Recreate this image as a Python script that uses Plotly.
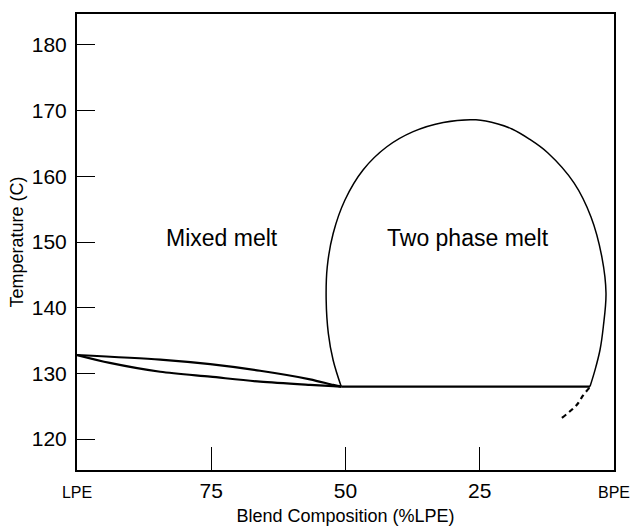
import plotly.graph_objects as go

# --- data (Blend composition in %LPE, temperature in C) ---
lens_upper_x = [100, 84.5, 75.2, 65.9, 56.6, 52.3, 50.8]
lens_upper_t = [132.8, 132.1, 131.4, 130.4, 129.1, 128.25, 128.0]
lens_lower_x = [100, 93.9, 84.5, 75.2, 65.9, 56.6, 52.3, 50.8]
lens_lower_t = [132.8, 131.6, 130.25, 129.5, 128.75, 128.25, 128.05, 128.0]

dome_x = [50.8, 52.3, 53.2, 53.6, 53.4, 52.3, 50.1, 46.7, 42.3, 37.4, 31.8, 25.7,
          21.6, 19.0, 15.83, 12.3, 7.45, 4.28, 2.23, 1.49, 1.99, 2.6, 3.54, 4.47]
dome_t = [128.0, 132.0, 136.1, 141.2, 146.2, 151.3, 156.4, 161.0, 164.5, 166.8, 168.2, 168.6,
          167.97, 167.2, 165.7, 163.55, 159.0, 153.8, 147.6, 142.2, 137.1, 133.6, 130.5, 128.0]

flat_x = [50.8, 4.47]
flat_t = [128.0, 128.0]

dash_x = [4.6, 5.72, 6.95, 9.74]
dash_t = [127.8, 126.7, 125.2, 123.2]

x_tickvals = [100, 75, 50, 25, 0]
x_ticktext = ["<span style='font-size:16px'>LPE</span>", "75", "50", "25",
              "<span style='font-size:16px'>BPE</span>"]
y_tickvals = [120, 130, 140, 150, 160, 170, 180]

labels = ["Mixed melt", "Two phase melt"]
label_x = [73, 27.1]
label_t = [150.6, 150.6]

FONT = "Liberation Sans, Arial, Helvetica, sans-serif"

fig = go.Figure()
fig.add_trace(go.Scatter(x=lens_upper_x, y=lens_upper_t, mode="lines",
                         line=dict(color="black", width=2.2, shape="spline", smoothing=0.8)))
fig.add_trace(go.Scatter(x=lens_lower_x, y=lens_lower_t, mode="lines",
                         line=dict(color="black", width=2.2, shape="spline", smoothing=0.8)))
fig.add_trace(go.Scatter(x=dome_x, y=dome_t, mode="lines",
                         line=dict(color="black", width=1.5, shape="spline", smoothing=1.0)))
fig.add_trace(go.Scatter(x=flat_x, y=flat_t, mode="lines",
                         line=dict(color="black", width=2.2)))
fig.add_trace(go.Scatter(x=dash_x, y=dash_t, mode="lines",
                         line=dict(color="black", width=2.2, dash="5px,4px",
                                   shape="spline", smoothing=1.0)))

for txt, lx, lt in zip(labels, label_x, label_t):
    fig.add_annotation(x=lx, y=lt, text=txt, showarrow=False,
                       font=dict(family=FONT, size=23, color="black"))

fig.update_layout(
    width=636, height=526,
    margin=dict(l=77, r=22, t=14, b=56),
    paper_bgcolor="white", plot_bgcolor="white",
    showlegend=False,
    font=dict(family=FONT, color="black"),
    xaxis=dict(
        range=[100, 0], showgrid=False, zeroline=False, automargin=False,
        showline=True, linecolor="black", linewidth=2, mirror=True,
        ticks="inside", ticklen=23, tickwidth=1.2, tickcolor="black",
        tickvals=x_tickvals, ticktext=x_ticktext,
        tickfont=dict(family=FONT, size=21, color="black"),
        ticklabelstandoff=1,
        title=dict(text="Blend Composition (%LPE)",
                   font=dict(family=FONT, size=18, color="black"), standoff=21),
    ),
    yaxis=dict(
        range=[115.3, 184.7], showgrid=False, zeroline=False, automargin=False,
        showline=True, linecolor="black", linewidth=2, mirror=True,
        ticks="inside", ticklen=18, tickwidth=1.2, tickcolor="black",
        tickvals=y_tickvals,
        tickfont=dict(family=FONT, size=21, color="black"),
        ticklabelstandoff=4,
        title=dict(text="Temperature (C)",
                   font=dict(family=FONT, size=18, color="black"), standoff=3),
    ),
)

fig.write_html("out.html")
